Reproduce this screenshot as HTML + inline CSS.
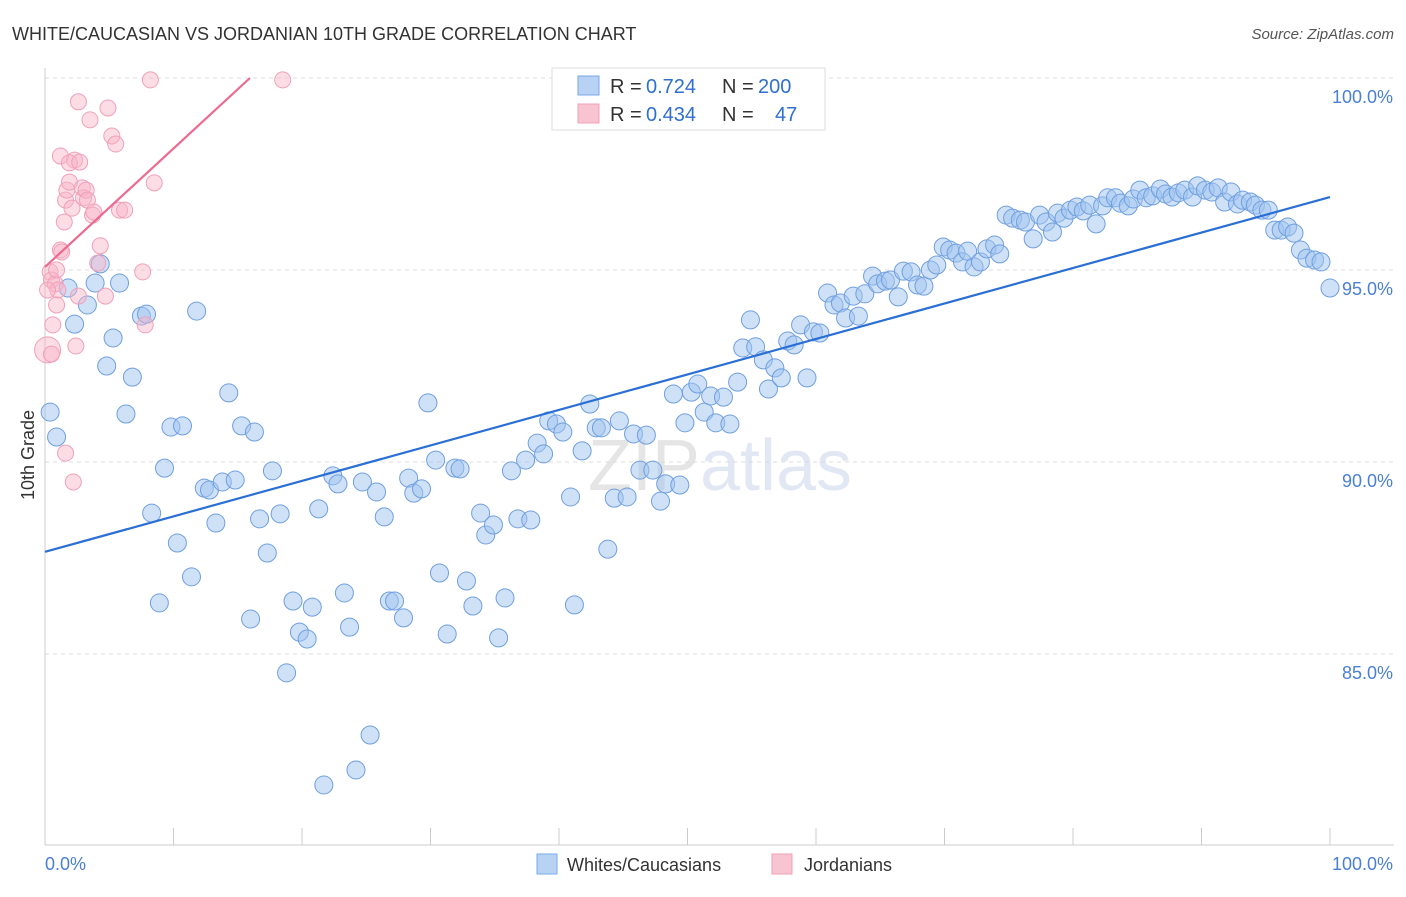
<!DOCTYPE html>
<html><head><meta charset="utf-8"><style>
body{margin:0;background:#fff;font-family:"Liberation Sans",sans-serif;}
svg text{font-family:"Liberation Sans",sans-serif;}
</style></head><body>
<svg width="1406" height="892" viewBox="0 0 1406 892" xmlns="http://www.w3.org/2000/svg">
<text x="12" y="40" font-size="18" fill="#333">WHITE/CAUCASIAN VS JORDANIAN 10TH GRADE CORRELATION CHART</text>
<text x="1394" y="39" font-size="15" fill="#555" text-anchor="end" font-style="italic">Source: ZipAtlas.com</text>
<g id="grid"></g>
<g id="axes"></g>
<text x="720" y="490" font-size="72" fill="#c8d6ea" fill-opacity="0.55" text-anchor="middle" font-family="Liberation Serif"><tspan fill="#cfcfcf">ZIP</tspan>atlas</text>
<g id="pts-blue"></g>
<g id="pts-pink"></g>
<g id="lines"></g>
<text transform="translate(34,455) rotate(-90)" font-size="18" fill="#333" text-anchor="middle">10th Grade</text>
<g>
<rect x="552" y="68" width="273" height="62" fill="#fff" stroke="#ddd"/>
<rect x="578" y="76" width="21" height="19" fill="#b8d2f4" stroke="#7aa8e8"/>
<rect x="578" y="104" width="21" height="19" fill="#f8c4d2" stroke="#f0a0b8"/>
<text x="610" y="93" font-size="20" fill="#333">R =</text>
<text x="646" y="93" font-size="20" fill="#2f6fd0">0.724</text>
<text x="722" y="93" font-size="20" fill="#333">N =</text>
<text x="758" y="93" font-size="20" fill="#2f6fd0">200</text>
<text x="610" y="121" font-size="20" fill="#333">R =</text>
<text x="646" y="121" font-size="20" fill="#2f6fd0">0.434</text>
<text x="722" y="121" font-size="20" fill="#333">N =</text>
<text x="775" y="121" font-size="20" fill="#2f6fd0">47</text>
</g>
<g>
<rect x="537" y="854" width="20" height="20" fill="#b8d2f4" stroke="#7aa8e8"/>
<text x="567" y="871" font-size="18" fill="#333">Whites/Caucasians</text>
<rect x="772" y="854" width="20" height="20" fill="#f8c4d2" stroke="#f0a0b8"/>
<text x="804" y="871" font-size="18" fill="#333">Jordanians</text>
</g>
</svg>
<script>
const blueX=[0.4,0.9,1.8,2.3,3.3,3.9,4.3,4.8,5.3,5.8,6.3,6.8,7.5,7.9,8.3,8.9,9.3,9.8,10.3,10.7,11.4,11.8,12.4,12.8,13.3,13.8,14.3,14.8,15.3,16.0,16.3,16.7,17.3,17.7,18.3,18.8,19.3,19.8,20.4,20.8,21.3,21.7,22.4,22.8,23.3,23.7,24.2,24.7,25.3,25.8,26.4,26.8,27.2,27.9,28.3,28.7,29.3,29.8,30.4,30.7,31.3,31.9,32.3,32.8,33.3,33.9,34.3,34.9,35.3,35.8,36.3,36.8,37.4,37.8,38.3,38.8,39.2,39.8,40.3,40.9,41.2,41.8,42.4,42.9,43.3,43.8,44.3,44.7,45.3,45.8,46.3,46.8,47.3,47.9,48.3,48.9,49.4,49.8,50.3,50.8,51.3,51.8,52.2,52.8,53.3,53.9,54.3,54.9,55.3,55.9,56.3,56.8,57.3,57.8,58.3,58.8,59.3,59.8,60.3,60.9,61.4,61.9,62.3,62.9,63.3,63.8,64.4,64.8,65.4,65.8,66.4,66.8,67.4,67.9,68.4,68.9,69.4,69.9,70.4,70.9,71.4,71.8,72.3,72.8,73.3,73.9,74.3,74.8,75.3,75.9,76.3,76.9,77.4,77.9,78.4,78.8,79.3,79.8,80.3,80.8,81.3,81.8,82.3,82.7,83.3,83.7,84.3,84.7,85.2,85.7,86.2,86.8,87.2,87.7,88.2,88.7,89.3,89.7,90.3,90.8,91.3,91.8,92.3,92.8,93.2,93.8,94.2,94.7,95.2,95.7,96.2,96.7,97.2,97.7,98.2,98.8,99.3,100];
const blueY=[91.30,90.65,94.53,93.59,94.09,94.66,95.16,92.50,93.23,94.66,91.25,92.21,93.80,93.85,88.67,86.33,89.84,90.91,87.89,90.94,87.01,93.93,89.32,89.27,88.41,89.48,91.80,89.53,90.94,85.91,90.78,88.52,87.63,89.77,88.65,84.51,86.38,85.57,85.39,86.22,88.78,81.59,89.64,89.43,86.59,85.70,81.98,89.48,82.89,89.22,88.57,86.38,86.38,85.94,89.58,89.19,89.30,91.54,90.05,87.11,85.52,89.84,89.82,86.90,86.25,88.67,88.10,88.36,85.42,86.46,89.77,88.52,90.05,88.49,90.49,90.21,91.07,90.99,90.78,89.09,86.28,90.29,91.51,90.89,90.89,87.73,89.06,91.07,89.09,90.73,89.79,90.70,89.79,88.98,89.43,91.77,89.40,91.02,91.82,92.03,91.30,91.72,91.02,91.69,90.99,92.08,92.97,93.70,93.00,92.66,91.90,92.45,92.19,93.15,93.05,93.57,92.19,93.39,93.36,94.40,94.09,94.14,93.75,94.32,93.80,94.38,94.84,94.64,94.71,94.74,94.30,94.97,94.95,94.61,94.58,95.00,95.13,95.60,95.52,95.44,95.21,95.49,95.08,95.21,95.55,95.65,95.42,96.43,96.35,96.30,96.25,95.81,96.43,96.25,95.99,96.48,96.35,96.56,96.64,96.54,96.69,96.20,96.67,96.88,96.88,96.74,96.67,96.85,97.08,96.88,96.93,97.11,96.98,96.90,97.01,97.08,96.90,97.19,97.08,97.03,97.14,96.77,97.03,96.72,96.82,96.77,96.69,96.56,96.56,96.04,96.04,96.12,95.96,95.52,95.31,95.26,95.21,94.53];
const pinkX=[0.2,0.5,0.4,0.5,0.8,1.0,0.2,0.6,0.9,1.2,1.3,1.5,1.6,1.7,1.9,2.1,2.3,1.2,1.9,2.6,2.7,2.9,3.0,3.2,3.3,3.5,3.7,3.8,4.1,4.3,2.6,4.7,4.9,5.2,5.5,5.8,6.2,7.6,7.8,8.2,8.5,18.5,1.6,2.2,2.4,0.9];
const pinkY=[92.92,92.81,94.95,94.74,94.64,94.48,94.48,93.57,94.09,95.52,95.47,96.25,96.82,97.08,97.29,96.61,97.86,97.97,97.79,99.38,97.81,97.14,96.88,97.08,96.82,98.91,96.43,96.51,95.18,95.63,94.32,94.32,99.22,98.49,98.28,96.56,96.56,94.95,93.57,99.95,97.27,99.95,90.23,89.48,93.02,95.00];
const yTicks=[100,95,90,85];
const yTickLabels=["100.0%","95.0%","90.0%","85.0%"];
const blueLine=[87.66,96.90];
const pinkLine=[95.08,100];
const pinkLineEndX=15.95;

const X0=45,X1=1330,Y100=78,PX5=192;
const sx=v=>X0+(X1-X0)*v/100;
const sy=v=>Y100+(100-v)*PX5/5;
const NS="http://www.w3.org/2000/svg";
function mk(tag,attrs,parent){const e=document.createElementNS(NS,tag);for(const k in attrs)e.setAttribute(k,attrs[k]);parent.appendChild(e);return e;}
const grid=document.getElementById('grid');
yTicks.forEach((t,i)=>{
  const l=mk('line',{x1:X0,x2:1394,y1:sy(t),y2:sy(t),stroke:'#ddd','stroke-dasharray':'4,4'},grid);
  
  
  const tx=mk('text',{x:1393,y:sy(t)+25,'font-size':18,fill:'#4a7fd4','text-anchor':'end'},grid);
  tx.textContent=yTickLabels[i];
  
  
});
const axes=document.getElementById('axes');
mk('line',{x1:X0,x2:X0,y1:68,y2:845,stroke:'#ccc'},axes);
mk('line',{x1:X0,x2:1394,y1:845,y2:845,stroke:'#ccc'},axes);
for(let i=0;i<=10;i++){const t=mk('line',{x1:sx(i*10),x2:sx(i*10),y1:828,y2:845,stroke:'#ccc'},axes);
  
  }
const xl=mk('text',{x:45,y:870,'font-size':18,fill:'#4a7fd4'},axes);xl.textContent='0.0%';


const xr=mk('text',{x:1393,y:870,'font-size':18,fill:'#4a7fd4','text-anchor':'end'},axes);xr.textContent='100.0%';


const gb=document.getElementById('pts-blue');
blueX.forEach((x,i)=>{const c=mk('circle',{cx:sx(x),cy:sy(blueY[i]),r:9,fill:'rgba(160,195,240,0.5)',stroke:'#6f9fe0','stroke-width':1},gb);
  
  });
const gp=document.getElementById('pts-pink');
pinkX.forEach((x,i)=>{const c=mk('circle',{cx:sx(x),cy:sy(pinkY[i]),r:i===0?13:8,fill:'rgba(248,180,200,0.45)',stroke:'#f0a0b8','stroke-width':1},gp);
  
  });
const gl=document.getElementById('lines');
const bl=mk('line',{x1:sx(0),y1:sy(blueLine[0]),x2:sx(100),y2:sy(blueLine[1]),stroke:'#2a6fd6','stroke-width':2.2},gl);


const pl=mk('line',{x1:sx(0),y1:sy(pinkLine[0]),x2:sx(pinkLineEndX),y2:sy(pinkLine[1]),stroke:'#ec6a90','stroke-width':2.2},gl);


</script>
</body></html>
